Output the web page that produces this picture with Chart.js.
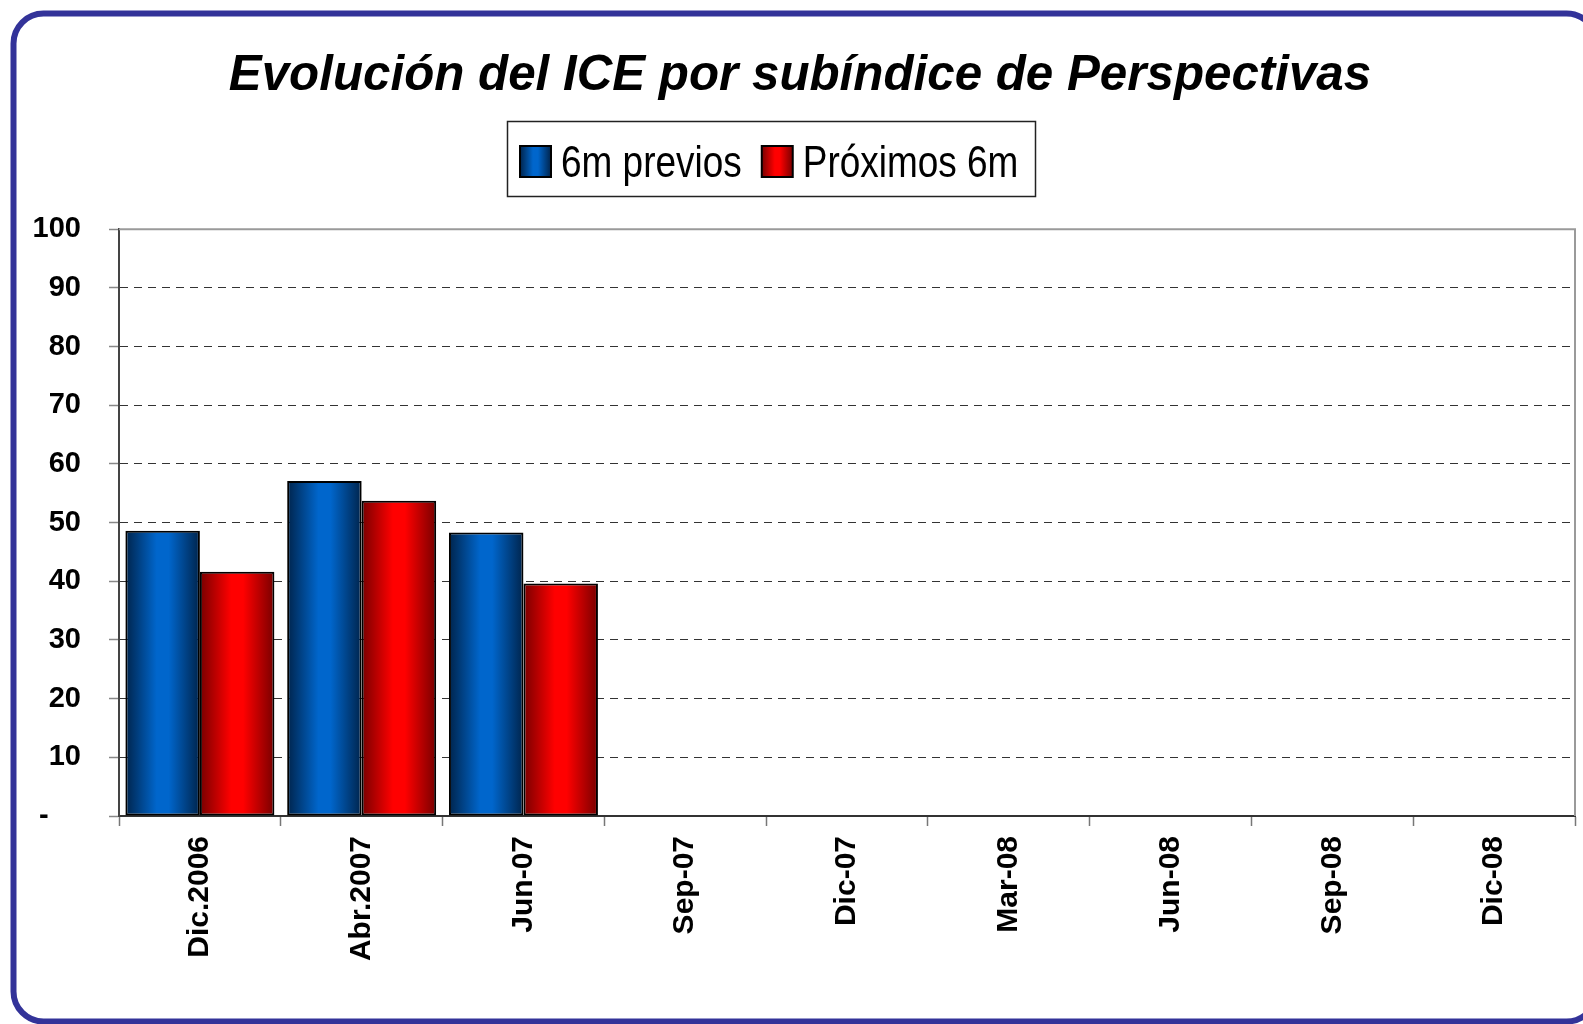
<!DOCTYPE html>
<html>
<head>
<meta charset="utf-8">
<script src="https://cdn.jsdelivr.net/npm/chart.js@4.4.1/dist/chart.umd.min.js"></script>
<style>
  html, body { margin: 0; padding: 0; background: #fff; }
  #contenedor { width: 1583px; height: 1024px; position: relative; }
</style>
</head>
<body>
<div id="contenedor"><canvas id="grafico"></canvas></div>
<script>
// datos
const categorias = ['Dic.2006', 'Abr.2007', 'Jun-07', 'Sep-07', 'Dic-07', 'Mar-08', 'Jun-08', 'Sep-08', 'Dic-08'];
const previos = [48.6, 57.1, 48.3, null, null, null, null, null, null];
const proximos = [41.6, 53.7, 39.6, null, null, null, null, null, null];
const nombresSeries = ['6m previos', 'Próximos 6m'];
const titulo = 'Evolución del ICE por subíndice de Perspectivas';

const colores = [
  { oscuro: '#00244c', claro: '#0066cc' },
  { oscuro: '#780000', claro: '#ff0000' }
];

const fuente = 'Liberation Sans, Arial, sans-serif';
Chart.defaults.font.family = fuente;
Chart.defaults.color = '#000';

function degradado(ctx, x0, x1, c) {
  const g = ctx.createLinearGradient(x0, 0, x1, 0);
  g.addColorStop(0, c.oscuro);
  g.addColorStop(0.42, c.claro);
  g.addColorStop(0.58, c.claro);
  g.addColorStop(1, c.oscuro);
  return g;
}

// marco redondeado y fondo
const pluginMarco = {
  id: 'marco',
  beforeDraw(chart) {
    const ctx = chart.ctx;
    ctx.save();
    ctx.fillStyle = '#fff';
    ctx.fillRect(0, 0, chart.width, chart.height);
    ctx.lineWidth = 6;
    ctx.strokeStyle = '#333399';
    ctx.beginPath();
    ctx.roundRect(13.5, 13.5, 1583, 1008, 30);
    ctx.stroke();
    ctx.restore();
  }
};

// cada barra con su degradado horizontal
const pluginDegradado = {
  id: 'degradado',
  beforeDatasetsDraw(chart) {
    const ctx = chart.ctx;
    const a = chart.chartArea;
    // borde superior y derecho del area de trazado
    ctx.save();
    ctx.strokeStyle = '#9a9a9a';
    ctx.lineWidth = 2;
    ctx.beginPath();
    ctx.moveTo(a.left, a.top);
    ctx.lineTo(a.right, a.top);
    ctx.lineTo(a.right, a.bottom);
    ctx.stroke();
    ctx.restore();

    chart.data.datasets.forEach((ds, i) => {
      chart.getDatasetMeta(i).data.forEach(bar => {
        const { x, width } = bar.getProps(['x', 'width'], true);
        if (!isFinite(x) || !isFinite(width)) return;
        bar.options = Object.assign({}, bar.options, {
          backgroundColor: degradado(ctx, x - width / 2, x + width / 2, colores[i])
        });
      });
    });
  }
};

// leyenda con recuadro
const pluginLeyenda = {
  id: 'leyenda',
  afterDraw(chart) {
    const ctx = chart.ctx;
    ctx.save();
    ctx.lineWidth = 1.5;
    ctx.strokeStyle = '#222';
    ctx.strokeRect(507.5, 121.5, 528, 75);

    const lado = 31, yCuadro = 146, base = 177, escala = 0.84;
    ctx.font = '44px ' + fuente;
    ctx.textBaseline = 'alphabetic';
    let x = 520;
    nombresSeries.forEach((nombre, i) => {
      ctx.fillStyle = degradado(ctx, x, x + lado, colores[i]);
      ctx.fillRect(x, yCuadro, lado, lado);
      ctx.lineWidth = 2;
      ctx.strokeStyle = '#000';
      ctx.strokeRect(x, yCuadro, lado, lado);
      const xt = x + lado + 10;
      ctx.save();
      ctx.translate(xt, base);
      ctx.scale(escala, 1);
      ctx.fillStyle = '#000';
      ctx.fillText(nombre, 0, 0);
      ctx.restore();
      x = xt + ctx.measureText(nombre).width * escala + 20;
    });
    ctx.restore();
  }
};

new Chart(document.getElementById('grafico'), {
  type: 'bar',
  data: {
    labels: categorias,
    datasets: [
      {
        label: nombresSeries[0],
        data: previos,
        backgroundColor: c => colores[0].claro,
        borderColor: '#000',
        borderWidth: 2,
        borderSkipped: false,
        barPercentage: 1,
        categoryPercentage: 0.921
      },
      {
        label: nombresSeries[1],
        data: proximos,
        backgroundColor: c => colores[1].claro,
        borderColor: '#000',
        borderWidth: 2,
        borderSkipped: false,
        barPercentage: 1,
        categoryPercentage: 0.921
      }
    ]
  },
  options: {
    responsive: true,
    maintainAspectRatio: false,
    animation: false,
    devicePixelRatio: 1,
    layout: { padding: { left: 25, right: 8, top: 0, bottom: 0 } },
    plugins: {
      legend: { display: false },
      tooltip: { enabled: false },
      title: {
        display: true,
        text: titulo,
        color: '#000',
        font: { size: 49.3, weight: 'bold', style: 'italic', lineHeight: 1.2 },
        padding: { top: 47, bottom: 123 }
      }
    },
    scales: {
      x: {
        afterFit: s => { s.height = 208; },
        grid: {
          display: true,
          drawOnChartArea: false,
          drawTicks: true,
          tickLength: 10,
          tickColor: '#777',
          tickWidth: 1.5,
          offset: true
        },
        border: { display: true, color: '#333', width: 2 },
        ticks: {
          autoSkip: false,
          maxRotation: 90,
          minRotation: 90,
          padding: 10,
          color: '#000',
          font: { size: 30, weight: 'bold' }
        }
      },
      y: {
        min: 0,
        max: 100,
        afterFit: s => { s.width = 94; },
        grid: {
          color: '#333',
          lineWidth: 1,
          tickLength: 10,
          tickColor: '#888',
          tickWidth: 1.5,
          tickBorderDash: []
        },
        border: { display: true, color: '#444', width: 2, dash: [8, 6] },
        ticks: {
          stepSize: 10,
          padding: 28,
          color: '#000',
          font: { size: 29, weight: 'bold' },
          callback: v => v === 0 ? '-    ' : v
        }
      }
    }
  },
  plugins: [pluginMarco, pluginDegradado, pluginLeyenda]
});
</script>
</body>
</html>
